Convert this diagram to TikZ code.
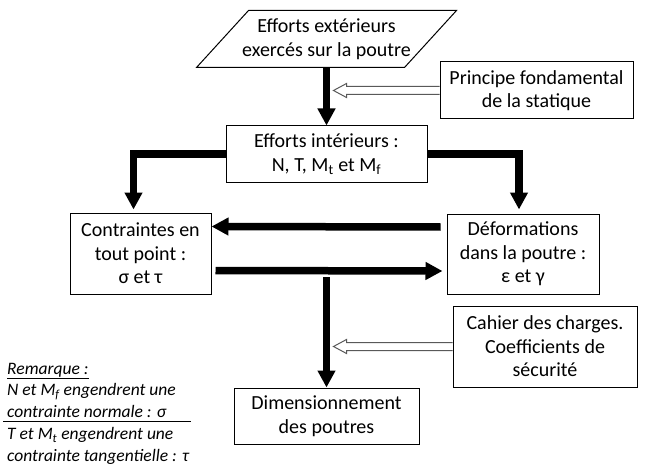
\documentclass[tikz,border=0pt]{standalone}
\usepackage{fontspec}
\setmainfont{Carlito}
\usepackage{tikz}
\usetikzlibrary{arrows.meta}
\usetikzlibrary{calc}

\newcommand{\flechecreuse}[2]{%
  \filldraw[fill=white, draw=black!65, line width=1pt] ($(#1)+(0,4)$) -- ($(#2)+(13,4)$) -- ($(#2)+(13,7)$) -- (#2) -- ($(#2)+(13,-7)$) -- ($(#2)+(13,-4)$) -- ($(#1)+(0,-4)$);}

\begin{document}
\begin{tikzpicture}[x=1pt, y=-1pt,
    boite/.style={draw, line width=1pt, align=center, inner sep=0pt, font=\fontsize{20}{23.5}\selectfont},
    remarque/.style={anchor=west, align=left, inner sep=0pt, font=\itshape\fontsize{17.5}{21.5}\selectfont},
    fleche/.style={-{Triangle[length=17pt,width=17pt]}, line width=7.5pt}]
    \useasboundingbox (0,0) rectangle (663,465);

    \node[boite, draw=none, minimum width=207pt, minimum height=56pt] (EXT) at (326.5,39) {Efforts extérieurs\\exercés sur la poutre};
    \node[boite, minimum width=193pt, minimum height=57pt] (PFS) at (536.5,90.5) {Principe fondamental\\de la statique};
    \node[boite, minimum width=201pt, minimum height=56pt] (INT) at (326.5,154) {Efforts intérieurs :\\N, T, M\textsubscript{t} et M\textsubscript{f}};
    \node[boite, minimum width=141pt, minimum height=81pt] (CON) at (140.5,253.5) {Contraintes en\\tout point :\\σ et τ};
    \node[boite, minimum width=152pt, minimum height=80pt] (DEF) at (523,254) {Déformations\\dans la poutre :\\ε et γ};
    \node[boite, minimum width=184pt, minimum height=81pt] (CDC) at (545,346.5) {Cahier des charges.\\Coefficients de\\sécurité};
    \node[boite, minimum width=185pt, minimum height=56pt] (DIM) at (326.5,416) {Dimensionnement\\des poutres};
    \node[remarque] (REM) at (7,390) {\underline{Remarque :}\\N et M\textsubscript{f} engendrent une\\contrainte normale : σ};
    \node[remarque] (REM2) at (7,446) {T et M\textsubscript{t} engendrent une\\contrainte tangentielle : τ};

    \coordinate (P1) at ($(PFS.west)+(-106,0)$);
    \coordinate (P2) at ($(CDC.west)+(-119,0)$);
    \coordinate (D0) at (326.5,277);

    \draw[line width=1pt] ($(EXT.south west)+(-26,0)$) -- ($(EXT.north west)+(26,0)$) -- ($(EXT.north east)+(26,0)$) -- ($(EXT.south east)+(-26,0)$) -- cycle;
    \draw[line width=1pt] (3,421) -- (191,421);

    \draw[fleche] (EXT.south) -- (INT.north);
    \draw[fleche, shorten >=3pt] (INT.west) -| ([xshift=-7pt]CON.north);
    \draw[fleche, shorten >=4pt] (INT.east) -| ([xshift=-4pt]DEF.north);
    \draw[fleche] ([xshift=-6pt,yshift=27pt]DEF.west) -- ([yshift=27pt]CON.east);
    \draw[fleche] ([xshift=4pt,yshift=-17pt]CON.east) -- ([xshift=-4pt,yshift=-17pt]DEF.west);
    \draw[fleche] (D0) -- (DIM.north);
    \flechecreuse{PFS.west}{P1}
    \flechecreuse{CDC.west}{P2}
\end{tikzpicture}
\end{document}
